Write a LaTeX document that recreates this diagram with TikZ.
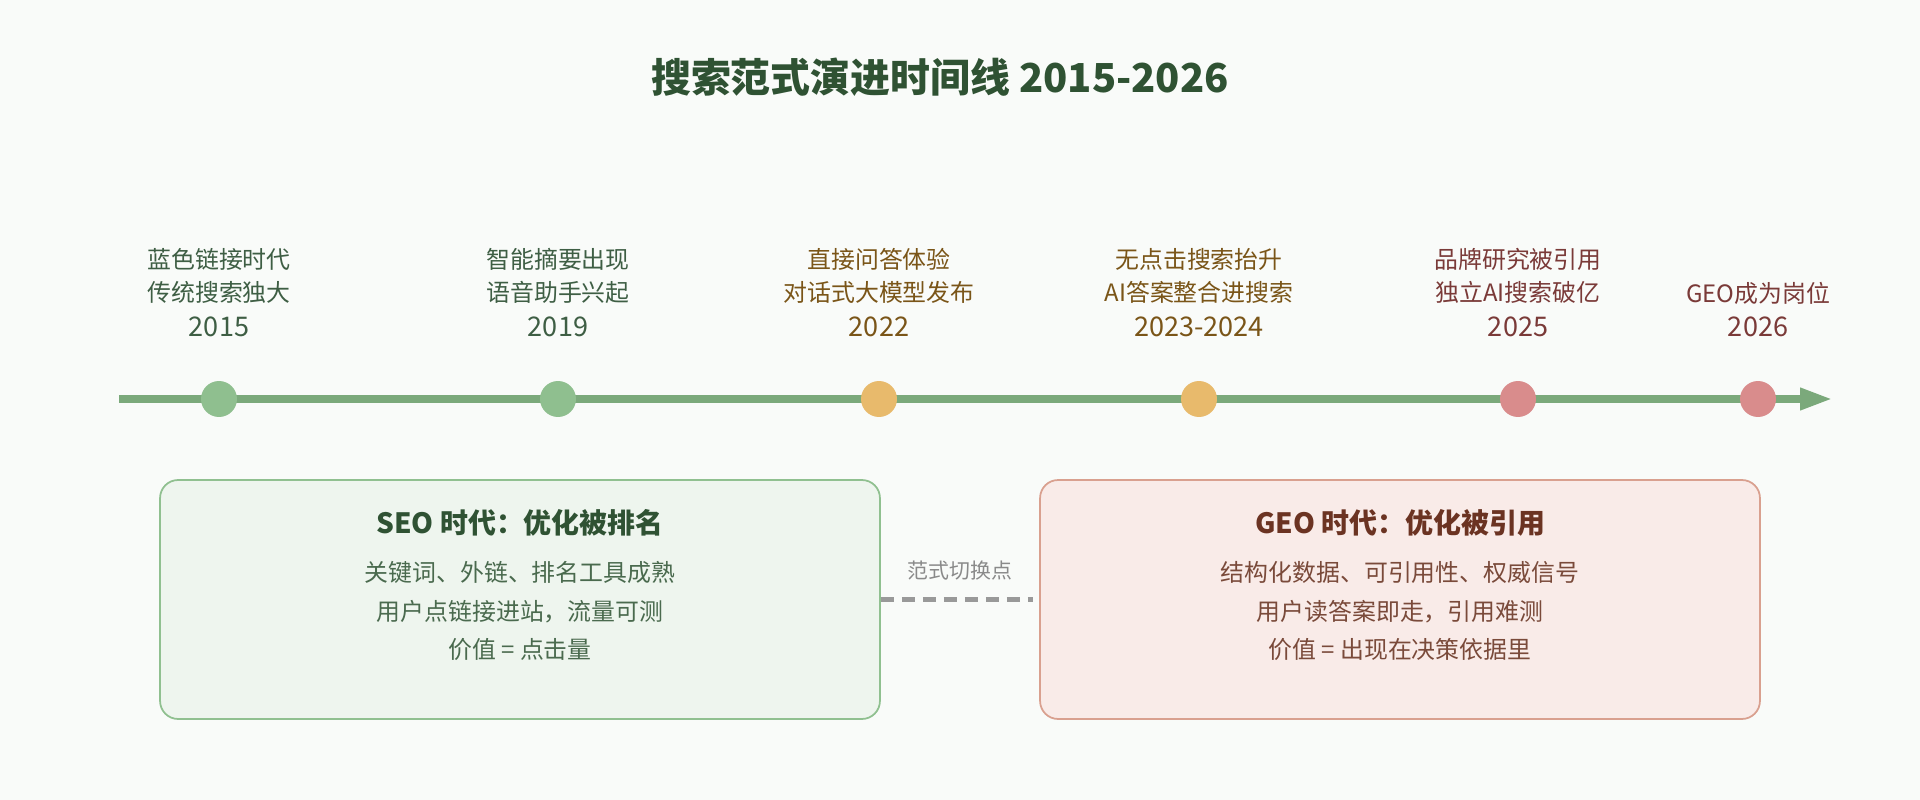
\documentclass[tikz,border=0pt]{standalone}
\usepackage{fontspec}
\setmainfont{Noto Sans CJK SC}
\usetikzlibrary{arrows.meta}
\definecolor{bgcol}{HTML}{F9FBF9}
\definecolor{titlecol}{HTML}{2F5233}
\definecolor{axiscol}{HTML}{7BA97B}
\definecolor{greendot}{HTML}{8FBF8F}
\definecolor{amberdot}{HTML}{E8BA6C}
\definecolor{rosedot}{HTML}{D98C8C}
\definecolor{greentext}{HTML}{3E5E44}
\definecolor{ambertext}{HTML}{7A5518}
\definecolor{rosetext}{HTML}{7A3A38}
\definecolor{seofill}{HTML}{EEF5EE}
\definecolor{seoline}{HTML}{90C090}
\definecolor{seotext}{HTML}{4A6A4E}
\definecolor{geofill}{HTML}{F9EBE8}
\definecolor{geoline}{HTML}{D9A08F}
\definecolor{geotitle}{HTML}{6B3322}
\definecolor{geotext}{HTML}{7A4A3A}
\definecolor{switchcol}{HTML}{999999}
\definecolor{switchtext}{HTML}{8A8A8A}
\begin{document}
\begin{tikzpicture}[x=0.02cm, y=-0.02cm,
    dot/.style={circle, minimum size=0.72cm, inner sep=0pt},
    milestone/.style={align=center, inner sep=0pt, font=\fontsize{13.6}{18.7}\selectfont},
    year/.style={inner sep=0pt, font=\fontsize{15.4}{18}\selectfont},
    era/.style={draw, rounded corners=0.36cm, line width=1pt, minimum width=14.4cm, minimum height=4.78cm},
    eratitle/.style={inner sep=0pt, font=\fontsize{15.9}{19}\selectfont\bfseries},
    erabody/.style={align=center, inner sep=0pt, font=\fontsize{13.6}{22.1}\selectfont},
    switch/.style={switchcol, line width=2.6pt, dash pattern=on 0.26cm off 0.16cm, shorten >=0.12cm}]
    \useasboundingbox[fill=bgcol] (0,0) rectangle (1920,800);
    \node[inner sep=0pt, text=titlecol, font=\fontsize{22.7}{27}\selectfont\bfseries] (title) at (940,77) {搜索范式演进时间线 2015-2026};
    \coordinate (axisstart) at (119,399);
    \coordinate (axisend) at (1832,399);
    \draw[axiscol, line width=4pt, -{Triangle[length=0.64cm,width=0.42cm]}] (axisstart) -- (axisend);
    \node[dot, fill=greendot] (d2015) at (219,399) {};
    \node[dot, fill=greendot] (d2019) at (558,399) {};
    \node[dot, fill=amberdot] (d2022) at (879,399) {};
    \node[dot, fill=amberdot] (d2023) at (1199,399) {};
    \node[dot, fill=rosedot] (d2025) at (1518,399) {};
    \node[dot, fill=rosedot] (d2026) at (1758,399) {};
    \node[milestone, text=greentext] (m2015) at (219,276) {蓝色链接时代\\传统搜索独大};
    \node[year, text=greentext] (y2015) at (219,327) {2015};
    \node[milestone, text=greentext] (m2019) at (558,276) {智能摘要出现\\语音助手兴起};
    \node[year, text=greentext] (y2019) at (558,327) {2019};
    \node[milestone, text=ambertext] (m2022) at (879,276) {直接问答体验\\对话式大模型发布};
    \node[year, text=ambertext] (y2022) at (879,327) {2022};
    \node[milestone, text=ambertext] (m2023) at (1199,276) {无点击搜索抬升\\AI答案整合进搜索};
    \node[year, text=ambertext] (y2023) at (1199,327) {2023-2024};
    \node[milestone, text=rosetext] (m2025) at (1518,276) {品牌研究被引用\\独立AI搜索破亿};
    \node[year, text=rosetext] (y2025) at (1518,327) {2025};
    \node[milestone, text=rosetext] (m2026) at (1758,293) {GEO成为岗位};
    \node[year, text=rosetext] (y2026) at (1758,327) {2026};
    \node[era, draw=seoline, fill=seofill] (seo) at (520,599.5) {};
    \node[era, draw=geoline, fill=geofill] (geo) at (1400,599.5) {};
    \node[eratitle, text=titlecol] (seohead) at (520,523) {SEO 时代：优化被排名};
    \node[erabody, text=seotext] (seobody) at (520,611) {关键词、外链、排名工具成熟\\用户点链接进站，流量可测\\价值 = 点击量};
    \node[eratitle, text=geotitle] (geohead) at (1400,523) {GEO 时代：优化被引用};
    \node[erabody, text=geotext] (geobody) at (1400,611) {结构化数据、可引用性、权威信号\\用户读答案即走，引用难测\\价值 = 出现在决策依据里};
    \draw[switch] (seo) -- (geo);
    \node[inner sep=0pt, text=switchtext, font=\fontsize{11.9}{14}\selectfont] (switchlabel) at (960,571) {范式切换点};
\end{tikzpicture}
\end{document}
